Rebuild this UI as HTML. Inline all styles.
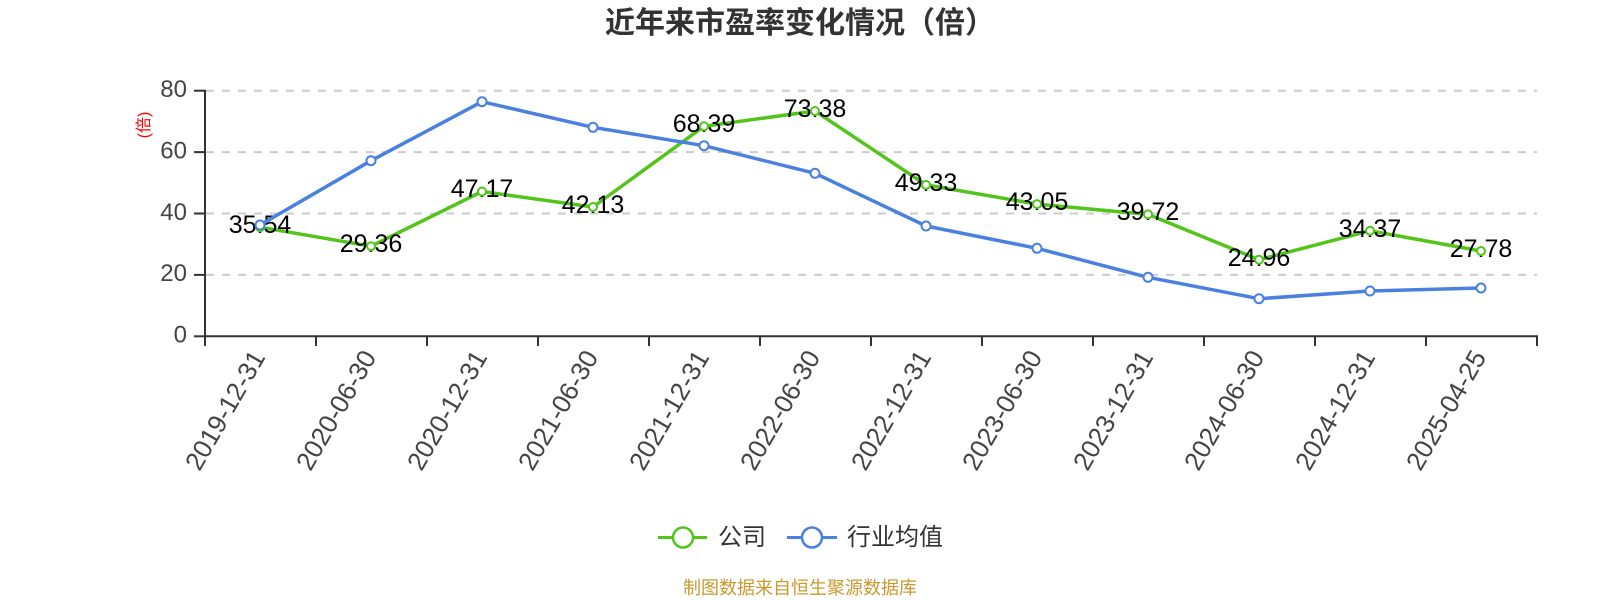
<!DOCTYPE html>
<html>
<head>
<meta charset="utf-8">
<style>
html,body{margin:0;padding:0;background:#fff;}
svg{display:block;}
text{font-family:"Liberation Sans","Noto Sans CJK SC",sans-serif;}
</style>
</head>
<body>
<svg width="1600" height="600" viewBox="0 0 1600 600" xmlns="http://www.w3.org/2000/svg">
<rect width="1600" height="600" fill="#fff"/>
<!-- title -->
<text x="800" y="33" text-anchor="middle" font-size="30" font-weight="bold" fill="#333">近年来市盈率变化情况（倍）</text>

<!-- grid lines -->
<g stroke="#cccccc" stroke-width="2" stroke-dasharray="8,8">
<line x1="206" y1="90.7" x2="1537" y2="90.7"/>
<line x1="206" y1="152.1" x2="1537" y2="152.1"/>
<line x1="206" y1="213.5" x2="1537" y2="213.5"/>
<line x1="206" y1="274.9" x2="1537" y2="274.9"/>
</g>

<!-- y axis -->
<g stroke="#333" stroke-width="2">
<line x1="205" y1="89.7" x2="205" y2="337"/>
<line x1="194" y1="90.7" x2="205" y2="90.7"/>
<line x1="194" y1="152.1" x2="205" y2="152.1"/>
<line x1="194" y1="213.5" x2="205" y2="213.5"/>
<line x1="194" y1="274.9" x2="205" y2="274.9"/>
<line x1="194" y1="336.3" x2="205" y2="336.3"/>
<!-- x axis -->
<line x1="204" y1="336.3" x2="1538" y2="336.3"/>
<line x1="205" y1="336" x2="205" y2="346"/>
<line x1="316" y1="336" x2="316" y2="346"/>
<line x1="427" y1="336" x2="427" y2="346"/>
<line x1="538" y1="336" x2="538" y2="346"/>
<line x1="649" y1="336" x2="649" y2="346"/>
<line x1="760" y1="336" x2="760" y2="346"/>
<line x1="871" y1="336" x2="871" y2="346"/>
<line x1="982" y1="336" x2="982" y2="346"/>
<line x1="1093" y1="336" x2="1093" y2="346"/>
<line x1="1204" y1="336" x2="1204" y2="346"/>
<line x1="1315" y1="336" x2="1315" y2="346"/>
<line x1="1426" y1="336" x2="1426" y2="346"/>
<line x1="1537" y1="336" x2="1537" y2="346"/>
</g>

<!-- y labels -->
<g font-size="24" fill="#444" text-anchor="end">
<text x="187" y="97">80</text>
<text x="187" y="158.4">60</text>
<text x="187" y="219.8">40</text>
<text x="187" y="281.2">20</text>
<text x="187" y="342.6">0</text>
</g>
<text transform="translate(149,125) rotate(-90)" text-anchor="middle" font-size="16" fill="#ff0000">(倍)</text>

<!-- x labels -->
<g font-size="26" fill="#444" text-anchor="end">
<text transform="translate(266,357) rotate(-60)">2019-12-31</text>
<text transform="translate(377,357) rotate(-60)">2020-06-30</text>
<text transform="translate(488,357) rotate(-60)">2020-12-31</text>
<text transform="translate(599,357) rotate(-60)">2021-06-30</text>
<text transform="translate(710,357) rotate(-60)">2021-12-31</text>
<text transform="translate(821,357) rotate(-60)">2022-06-30</text>
<text transform="translate(932,357) rotate(-60)">2022-12-31</text>
<text transform="translate(1043,357) rotate(-60)">2023-06-30</text>
<text transform="translate(1154,357) rotate(-60)">2023-12-31</text>
<text transform="translate(1265,357) rotate(-60)">2024-06-30</text>
<text transform="translate(1376,357) rotate(-60)">2024-12-31</text>
<text transform="translate(1487,357) rotate(-60)">2025-04-25</text>
</g>

<!-- company line -->
<polyline fill="none" stroke="#52c41a" stroke-width="3.5" stroke-linejoin="round"
points="260,227.2 371,246.2 482,191.5 593,207.0 704,126.3 815,111.0 926,184.9 1037,204.1 1148,214.4 1259,259.7 1370,230.8 1481,251.0"/>

<!-- company labels -->
<g font-size="25" fill="#000" text-anchor="middle">
<text x="260" y="233">35.54</text>
<text x="371" y="252">29.36</text>
<text x="482" y="197">47.17</text>
<text x="593" y="213">42.13</text>
<text x="704" y="132">68.39</text>
<text x="815" y="117">73.38</text>
<text x="926" y="191">49.33</text>
<text x="1037" y="210">43.05</text>
<text x="1148" y="220">39.72</text>
<text x="1259" y="266">24.96</text>
<text x="1370" y="237">34.37</text>
<text x="1481" y="257">27.78</text>
</g>

<g fill="#fff" stroke="#52c41a" stroke-width="2">
<circle cx="260" cy="227.2" r="4"/>
<circle cx="371" cy="246.2" r="4"/>
<circle cx="482" cy="191.5" r="4"/>
<circle cx="593" cy="207.0" r="4"/>
<circle cx="704" cy="126.3" r="4"/>
<circle cx="815" cy="111.0" r="4"/>
<circle cx="926" cy="184.9" r="4"/>
<circle cx="1037" cy="204.1" r="4"/>
<circle cx="1148" cy="214.4" r="4"/>
<circle cx="1259" cy="259.7" r="4"/>
<circle cx="1370" cy="230.8" r="4"/>
<circle cx="1481" cy="251.0" r="4"/>
</g>

<!-- industry line -->
<polyline fill="none" stroke="#4a80e0" stroke-width="3.5" stroke-linejoin="round"
points="260,225 371,160.7 482,101.7 593,127.3 704,145.7 815,173.3 926,226 1037,248.3 1148,277.3 1259,298.7 1370,291 1481,288"/>
<g fill="#fff" stroke="#4a80e0" stroke-width="2">
<circle cx="260" cy="225" r="4.5"/>
<circle cx="371" cy="160.7" r="4.5"/>
<circle cx="482" cy="101.7" r="4.5"/>
<circle cx="593" cy="127.3" r="4.5"/>
<circle cx="704" cy="145.7" r="4.5"/>
<circle cx="815" cy="173.3" r="4.5"/>
<circle cx="926" cy="226" r="4.5"/>
<circle cx="1037" cy="248.3" r="4.5"/>
<circle cx="1148" cy="277.3" r="4.5"/>
<circle cx="1259" cy="298.7" r="4.5"/>
<circle cx="1370" cy="291" r="4.5"/>
<circle cx="1481" cy="288" r="4.5"/>
</g>

<!-- legend -->
<line x1="658" y1="537.5" x2="707" y2="537.5" stroke="#52c41a" stroke-width="3"/>
<circle cx="683" cy="537.5" r="10" fill="#fff" stroke="#52c41a" stroke-width="2.5"/>
<text x="718" y="545" font-size="24" fill="#333">公司</text>
<line x1="787" y1="537.5" x2="837" y2="537.5" stroke="#4a80e0" stroke-width="3"/>
<circle cx="812" cy="537.5" r="10" fill="#fff" stroke="#4a80e0" stroke-width="2.5"/>
<text x="847" y="545" font-size="24" fill="#333">行业均值</text>

<!-- footer -->
<text x="800" y="594" text-anchor="middle" font-size="18" fill="#c9992e">制图数据来自恒生聚源数据库</text>
</svg>
</body>
</html>
